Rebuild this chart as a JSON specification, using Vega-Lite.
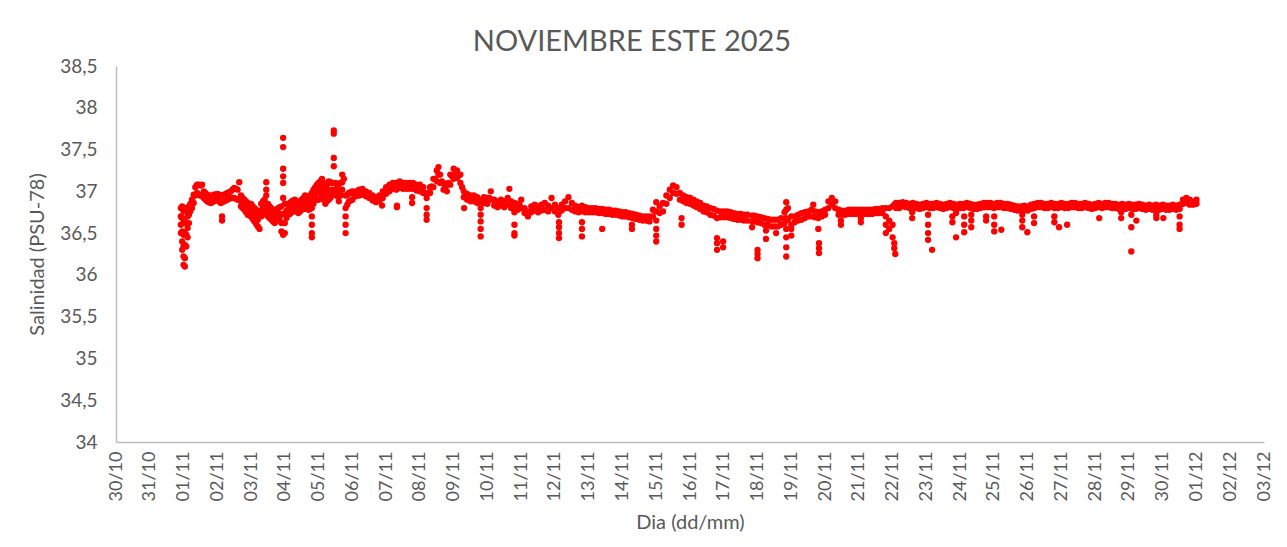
{
"$schema": "https://vega.github.io/schema/vega-lite/v6.json",
"width": 1148, "height": 376,
"autosize": "none",
"padding": {"left": 116, "top": 66, "right": 23, "bottom": 105},
"background": "white",
"config": {"view": {"stroke": null}, "font": "Lato"},
"title": {"text": "NOVIEMBRE ESTE 2025", "fontSize": 29, "font": "Lato", "fontWeight": "normal", "color": "#595959", "anchor": "middle", "dx": -58, "offset": 0},
"data": {"values": [
{"d":0.92,"s":36.8},{"d":0.92,"s":36.7},{"d":0.92,"s":36.6},{"d":0.92,"s":36.5},
{"d":0.96,"s":36.82},{"d":0.96,"s":36.68},{"d":0.96,"s":36.52},{"d":0.96,"s":36.4},{"d":0.96,"s":36.3},
{"d":1.0,"s":36.76},{"d":1.0,"s":36.62},{"d":1.0,"s":36.48},{"d":1.0,"s":36.34},{"d":1.0,"s":36.22},{"d":1.0,"s":36.12},
{"d":1.04,"s":36.8},{"d":1.04,"s":36.64},{"d":1.04,"s":36.5},{"d":1.04,"s":36.36},{"d":1.04,"s":36.2},{"d":1.04,"s":36.1},
{"d":1.08,"s":36.78},{"d":1.08,"s":36.62},{"d":1.08,"s":36.48},{"d":1.08,"s":36.34},
{"d":1.12,"s":36.8},{"d":1.12,"s":36.7},{"d":1.12,"s":36.56},{"d":1.12,"s":36.45},
{"d":1.16,"s":36.82},{"d":1.16,"s":36.72},{"d":1.16,"s":36.62},
{"d":1.2,"s":36.85},{"d":1.2,"s":36.76},{"d":1.25,"s":36.9},{"d":1.25,"s":36.8},
{"d":1.3,"s":36.96},{"d":1.3,"s":36.86},{"d":1.35,"s":37.05},{"d":1.35,"s":36.95},
{"d":1.4,"s":37.08},{"d":1.4,"s":36.98},{"d":1.45,"s":37.08},{"d":1.45,"s":36.96},
{"d":1.5,"s":37.07},{"d":1.5,"s":36.95},{"d":1.55,"s":37.08},{"d":1.55,"s":36.94},
{"d":1.6,"s":37.0},{"d":1.6,"s":36.92},{"d":1.65,"s":36.98},{"d":1.65,"s":36.9},
{"d":1.7,"s":36.96},{"d":1.7,"s":36.88},{"d":1.75,"s":36.95},{"d":1.75,"s":36.87},
{"d":1.8,"s":36.94},{"d":1.8,"s":36.86},{"d":1.85,"s":36.95},{"d":1.85,"s":36.87},
{"d":1.9,"s":36.96},{"d":1.9,"s":36.88},{"d":1.95,"s":36.96},{"d":1.95,"s":36.89},
{"d":2.0,"s":36.97},{"d":2.0,"s":36.9},{"d":2.05,"s":36.96},{"d":2.05,"s":36.88},
{"d":2.1,"s":36.95},{"d":2.1,"s":36.86},{"d":2.15,"s":36.95},{"d":2.15,"s":36.87},
{"d":2.14,"s":36.7},{"d":2.14,"s":36.65},
{"d":2.2,"s":36.96},{"d":2.2,"s":36.88},{"d":2.25,"s":36.97},{"d":2.25,"s":36.89},
{"d":2.3,"s":36.98},{"d":2.3,"s":36.9},{"d":2.35,"s":36.99},{"d":2.35,"s":36.91},
{"d":2.4,"s":37.0},{"d":2.4,"s":36.92},{"d":2.45,"s":37.02},{"d":2.45,"s":36.92},
{"d":2.5,"s":37.04},{"d":2.5,"s":36.92},{"d":2.55,"s":37.03},{"d":2.55,"s":36.91},
{"d":2.6,"s":37.02},{"d":2.6,"s":36.9},{"d":2.65,"s":37.11},
{"d":2.7,"s":36.95},{"d":2.7,"s":36.88},{"d":2.7,"s":36.82},{"d":2.75,"s":36.92},{"d":2.75,"s":36.86},{"d":2.75,"s":36.8},
{"d":2.8,"s":36.9},{"d":2.8,"s":36.84},{"d":2.8,"s":36.78},{"d":2.85,"s":36.88},{"d":2.85,"s":36.81},{"d":2.85,"s":36.75},
{"d":2.9,"s":36.86},{"d":2.9,"s":36.79},{"d":2.9,"s":36.72},{"d":2.95,"s":36.85},{"d":2.95,"s":36.78},{"d":2.95,"s":36.71},
{"d":3.0,"s":36.85},{"d":3.0,"s":36.77},{"d":3.0,"s":36.7},{"d":3.05,"s":36.82},{"d":3.05,"s":36.74},{"d":3.05,"s":36.67},
{"d":3.1,"s":36.8},{"d":3.1,"s":36.72},{"d":3.1,"s":36.64},{"d":3.15,"s":36.78},{"d":3.15,"s":36.7},{"d":3.15,"s":36.61},
{"d":3.2,"s":36.75},{"d":3.2,"s":36.66},{"d":3.2,"s":36.58},{"d":3.25,"s":36.55},
{"d":3.3,"s":36.85},{"d":3.3,"s":36.77},{"d":3.3,"s":36.7},{"d":3.35,"s":36.88},{"d":3.35,"s":36.8},{"d":3.35,"s":36.72},
{"d":3.4,"s":36.9},{"d":3.4,"s":36.82},{"d":3.4,"s":36.75},
{"d":3.45,"s":37.11},{"d":3.45,"s":37.02},{"d":3.45,"s":36.95},
{"d":3.5,"s":36.85},{"d":3.5,"s":36.77},{"d":3.5,"s":36.7},{"d":3.55,"s":36.82},{"d":3.55,"s":36.75},{"d":3.55,"s":36.68},
{"d":3.6,"s":36.8},{"d":3.6,"s":36.73},{"d":3.6,"s":36.66},{"d":3.65,"s":36.78},{"d":3.65,"s":36.71},{"d":3.65,"s":36.64},
{"d":3.7,"s":36.76},{"d":3.7,"s":36.69},{"d":3.7,"s":36.62},{"d":3.75,"s":36.78},{"d":3.75,"s":36.71},{"d":3.75,"s":36.65},
{"d":3.8,"s":36.8},{"d":3.8,"s":36.74},{"d":3.8,"s":36.68},{"d":3.85,"s":36.81},{"d":3.85,"s":36.73},{"d":3.85,"s":36.65},
{"d":3.9,"s":36.82},{"d":3.9,"s":36.72},{"d":3.9,"s":36.62},{"d":3.9,"s":36.52},
{"d":3.95,"s":37.64},{"d":3.95,"s":37.53},{"d":3.95,"s":37.27},{"d":3.95,"s":37.18},{"d":3.95,"s":37.1},{"d":3.95,"s":36.92},{"d":3.95,"s":36.48},
{"d":4.0,"s":36.85},{"d":4.0,"s":36.74},{"d":4.0,"s":36.62},{"d":4.0,"s":36.5},
{"d":4.05,"s":36.85},{"d":4.05,"s":36.77},{"d":4.05,"s":36.68},
{"d":4.1,"s":36.85},{"d":4.1,"s":36.78},{"d":4.1,"s":36.72},{"d":4.15,"s":36.86},{"d":4.15,"s":36.8},{"d":4.15,"s":36.73},
{"d":4.2,"s":36.88},{"d":4.2,"s":36.81},{"d":4.2,"s":36.75},{"d":4.25,"s":36.89},{"d":4.25,"s":36.82},{"d":4.25,"s":36.76},
{"d":4.3,"s":36.9},{"d":4.3,"s":36.84},{"d":4.3,"s":36.78},{"d":4.35,"s":36.88},{"d":4.35,"s":36.82},{"d":4.35,"s":36.76},
{"d":4.4,"s":36.85},{"d":4.4,"s":36.8},{"d":4.4,"s":36.74},{"d":4.45,"s":36.88},{"d":4.45,"s":36.82},{"d":4.45,"s":36.76},
{"d":4.5,"s":36.9},{"d":4.5,"s":36.84},{"d":4.5,"s":36.78},{"d":4.55,"s":36.92},{"d":4.55,"s":36.85},{"d":4.55,"s":36.79},
{"d":4.6,"s":36.95},{"d":4.6,"s":36.87},{"d":4.6,"s":36.8},{"d":4.65,"s":36.93},{"d":4.65,"s":36.86},{"d":4.65,"s":36.79},
{"d":4.7,"s":36.92},{"d":4.7,"s":36.85},{"d":4.7,"s":36.78},{"d":4.75,"s":36.95},{"d":4.75,"s":36.87},{"d":4.75,"s":36.79},
{"d":4.8,"s":36.98},{"d":4.8,"s":36.89},{"d":4.8,"s":36.8},{"d":4.8,"s":36.7},{"d":4.8,"s":36.6},{"d":4.8,"s":36.5},{"d":4.8,"s":36.45},
{"d":4.85,"s":37.02},{"d":4.85,"s":36.93},{"d":4.85,"s":36.85},
{"d":4.9,"s":37.05},{"d":4.9,"s":36.97},{"d":4.9,"s":36.9},{"d":4.95,"s":37.08},{"d":4.95,"s":36.99},{"d":4.95,"s":36.9},
{"d":5.0,"s":37.1},{"d":5.0,"s":37.0},{"d":5.0,"s":36.9},{"d":5.05,"s":37.12},{"d":5.05,"s":37.02},{"d":5.05,"s":36.92},
{"d":5.1,"s":37.15},{"d":5.1,"s":37.05},{"d":5.1,"s":36.95},{"d":5.15,"s":37.1},{"d":5.15,"s":37.0},{"d":5.15,"s":36.9},
{"d":5.2,"s":37.05},{"d":5.2,"s":36.95},{"d":5.2,"s":36.85},{"d":5.25,"s":37.08},{"d":5.25,"s":36.98},{"d":5.25,"s":36.88},
{"d":5.3,"s":37.12},{"d":5.3,"s":37.01},{"d":5.3,"s":36.9},{"d":5.35,"s":37.11},{"d":5.35,"s":37.01},{"d":5.35,"s":36.92},
{"d":5.4,"s":37.1},{"d":5.4,"s":37.02},{"d":5.4,"s":36.95},
{"d":5.45,"s":37.73},{"d":5.45,"s":37.69},{"d":5.45,"s":37.4},{"d":5.45,"s":37.3},
{"d":5.5,"s":37.1},{"d":5.5,"s":37.0},{"d":5.55,"s":37.05},{"d":5.55,"s":36.99},{"d":5.55,"s":36.94},
{"d":5.6,"s":37.0},{"d":5.6,"s":36.94},{"d":5.6,"s":36.88},{"d":5.65,"s":37.1},{"d":5.65,"s":37.02},{"d":5.65,"s":36.95},
{"d":5.7,"s":37.2},{"d":5.7,"s":37.11},{"d":5.7,"s":37.02},{"d":5.75,"s":37.15},
{"d":5.8,"s":36.95},{"d":5.8,"s":36.8},{"d":5.8,"s":36.7},{"d":5.8,"s":36.6},{"d":5.8,"s":36.5},
{"d":5.85,"s":36.96},{"d":5.85,"s":36.84},
{"d":5.9,"s":36.98},{"d":5.9,"s":36.88},{"d":5.95,"s":36.99},{"d":5.95,"s":36.89},
{"d":6.0,"s":37.0},{"d":6.0,"s":36.9},{"d":6.05,"s":36.96},
{"d":6.1,"s":37.0},{"d":6.1,"s":36.94},{"d":6.15,"s":36.98},
{"d":6.2,"s":37.02},{"d":6.2,"s":36.95},{"d":6.25,"s":36.99},
{"d":6.3,"s":37.03},{"d":6.3,"s":36.96},{"d":6.35,"s":36.99},
{"d":6.4,"s":37.0},{"d":6.4,"s":36.94},{"d":6.45,"s":36.96},
{"d":6.5,"s":36.98},{"d":6.5,"s":36.92},{"d":6.55,"s":36.93},
{"d":6.6,"s":36.95},{"d":6.6,"s":36.89},{"d":6.65,"s":36.91},
{"d":6.7,"s":36.93},{"d":6.7,"s":36.87},{"d":6.75,"s":36.91},
{"d":6.8,"s":36.95},{"d":6.8,"s":36.88},{"d":6.85,"s":36.92},{"d":6.88,"s":36.83},
{"d":6.9,"s":37.0},{"d":6.9,"s":36.92},{"d":6.95,"s":36.99},
{"d":7.0,"s":37.05},{"d":7.0,"s":36.97},{"d":7.05,"s":37.03},
{"d":7.1,"s":37.08},{"d":7.1,"s":37.0},{"d":7.15,"s":37.05},
{"d":7.2,"s":37.1},{"d":7.2,"s":37.03},{"d":7.25,"s":37.06},
{"d":7.3,"s":37.1},{"d":7.3,"s":37.02},{"d":7.32,"s":36.83},{"d":7.32,"s":36.81},{"d":7.35,"s":37.07},
{"d":7.4,"s":37.12},{"d":7.4,"s":37.04},{"d":7.45,"s":37.07},
{"d":7.5,"s":37.1},{"d":7.5,"s":37.03},{"d":7.55,"s":37.06},
{"d":7.6,"s":37.1},{"d":7.6,"s":37.03},{"d":7.65,"s":37.06},
{"d":7.7,"s":37.1},{"d":7.7,"s":37.03},{"d":7.75,"s":37.06},
{"d":7.77,"s":36.93},{"d":7.77,"s":36.86},
{"d":7.8,"s":37.1},{"d":7.8,"s":37.03},{"d":7.85,"s":37.05},
{"d":7.9,"s":37.08},{"d":7.9,"s":37.01},{"d":7.95,"s":37.04},
{"d":8.0,"s":37.08},{"d":8.0,"s":37.0},{"d":8.05,"s":37.03},
{"d":8.1,"s":37.05},{"d":8.1,"s":36.98},{"d":8.15,"s":36.98},
{"d":8.2,"s":36.98},{"d":8.2,"s":36.92},{"d":8.2,"s":36.8},{"d":8.2,"s":36.72},{"d":8.2,"s":36.66},
{"d":8.25,"s":36.98},
{"d":8.3,"s":37.05},{"d":8.3,"s":36.98},{"d":8.35,"s":37.06},
{"d":8.4,"s":37.15},{"d":8.4,"s":37.05},{"d":8.45,"s":37.15},
{"d":8.5,"s":37.25},{"d":8.5,"s":37.12},{"d":8.55,"s":37.29},{"d":8.55,"s":37.2},
{"d":8.6,"s":37.2},{"d":8.6,"s":37.1},{"d":8.65,"s":37.12},
{"d":8.7,"s":37.1},{"d":8.7,"s":37.02},{"d":8.75,"s":37.05},
{"d":8.8,"s":37.08},{"d":8.8,"s":37.0},{"d":8.85,"s":37.1},
{"d":8.9,"s":37.2},{"d":8.9,"s":37.08},{"d":8.95,"s":37.18},
{"d":9.0,"s":37.27},{"d":9.0,"s":37.15},{"d":9.05,"s":37.21},
{"d":9.1,"s":37.25},{"d":9.1,"s":37.16},{"d":9.15,"s":37.19},
{"d":9.2,"s":37.2},{"d":9.2,"s":37.1},{"d":9.25,"s":37.05},
{"d":9.3,"s":37.0},{"d":9.3,"s":36.93},{"d":9.31,"s":36.8},{"d":9.35,"s":36.96},
{"d":9.4,"s":36.97},{"d":9.4,"s":36.9},{"d":9.45,"s":36.92},
{"d":9.5,"s":36.95},{"d":9.5,"s":36.88},{"d":9.55,"s":36.91},
{"d":9.6,"s":36.95},{"d":9.6,"s":36.88},{"d":9.65,"s":36.9},
{"d":9.7,"s":36.93},{"d":9.7,"s":36.86},{"d":9.75,"s":36.88},
{"d":9.8,"s":36.9},{"d":9.8,"s":36.8},{"d":9.8,"s":36.72},{"d":9.8,"s":36.64},{"d":9.8,"s":36.55},{"d":9.8,"s":36.46},
{"d":9.85,"s":36.87},
{"d":9.9,"s":36.93},{"d":9.9,"s":36.86},{"d":9.95,"s":36.89},
{"d":10.0,"s":36.92},{"d":10.0,"s":36.85},{"d":10.05,"s":36.92},
{"d":10.1,"s":37.0},{"d":10.1,"s":36.9},{"d":10.15,"s":36.9},
{"d":10.2,"s":36.9},{"d":10.2,"s":36.83},{"d":10.25,"s":36.85},
{"d":10.3,"s":36.88},{"d":10.3,"s":36.81},{"d":10.35,"s":36.86},
{"d":10.4,"s":36.9},{"d":10.4,"s":36.83},{"d":10.45,"s":36.86},
{"d":10.5,"s":36.88},{"d":10.5,"s":36.81},{"d":10.55,"s":36.86},
{"d":10.6,"s":36.92},{"d":10.6,"s":36.84},{"d":10.65,"s":37.03},
{"d":10.7,"s":36.88},{"d":10.7,"s":36.8},{"d":10.75,"s":36.83},
{"d":10.8,"s":36.86},{"d":10.8,"s":36.75},{"d":10.8,"s":36.6},{"d":10.8,"s":36.5},{"d":10.8,"s":36.47},
{"d":10.85,"s":36.82},
{"d":10.9,"s":36.85},{"d":10.9,"s":36.78},{"d":10.95,"s":36.84},
{"d":11.0,"s":36.9},{"d":11.0,"s":36.8},
{"d":11.1,"s":36.8},{"d":11.1,"s":36.74},{"d":11.2,"s":36.76},{"d":11.2,"s":36.7},
{"d":11.3,"s":36.82},{"d":11.3,"s":36.75},{"d":11.4,"s":36.84},{"d":11.4,"s":36.77},
{"d":11.5,"s":36.82},{"d":11.5,"s":36.75},{"d":11.6,"s":36.84},{"d":11.6,"s":36.77},
{"d":11.7,"s":36.86},{"d":11.7,"s":36.78},{"d":11.8,"s":36.83},{"d":11.8,"s":36.76},
{"d":11.9,"s":36.92},{"d":11.9,"s":36.8},{"d":12.0,"s":36.84},{"d":12.0,"s":36.76},
{"d":12.1,"s":36.8},{"d":12.1,"s":36.72},
{"d":12.12,"s":36.63},{"d":12.12,"s":36.57},{"d":12.12,"s":36.5},{"d":12.12,"s":36.44},
{"d":12.2,"s":36.84},{"d":12.2,"s":36.77},{"d":12.3,"s":36.88},{"d":12.3,"s":36.8},
{"d":12.4,"s":36.93},{"d":12.4,"s":36.8},{"d":12.5,"s":36.86},{"d":12.5,"s":36.78},
{"d":12.6,"s":36.83},{"d":12.6,"s":36.76},{"d":12.7,"s":36.81},{"d":12.7,"s":36.75},
{"d":12.8,"s":36.83},{"d":12.8,"s":36.76},{"d":12.8,"s":36.63},{"d":12.8,"s":36.55},{"d":12.8,"s":36.46},
{"d":12.9,"s":36.81},{"d":12.9,"s":36.75},{"d":13.0,"s":36.8},{"d":13.0,"s":36.75},
{"d":13.1,"s":36.8},{"d":13.1,"s":36.75},{"d":13.2,"s":36.8},{"d":13.2,"s":36.75},
{"d":13.3,"s":36.79},{"d":13.3,"s":36.74},{"d":13.4,"s":36.79},{"d":13.4,"s":36.74},{"d":13.4,"s":36.55},
{"d":13.5,"s":36.78},{"d":13.5,"s":36.73},{"d":13.6,"s":36.78},{"d":13.6,"s":36.73},
{"d":13.7,"s":36.77},{"d":13.7,"s":36.72},{"d":13.8,"s":36.77},{"d":13.8,"s":36.72},
{"d":13.9,"s":36.76},{"d":13.9,"s":36.71},{"d":14.0,"s":36.75},{"d":14.0,"s":36.7},
{"d":14.1,"s":36.75},{"d":14.1,"s":36.7},{"d":14.2,"s":36.74},{"d":14.2,"s":36.69},
{"d":14.28,"s":36.6},{"d":14.28,"s":36.55},
{"d":14.3,"s":36.73},{"d":14.3,"s":36.68},{"d":14.4,"s":36.72},{"d":14.4,"s":36.67},
{"d":14.5,"s":36.71},{"d":14.5,"s":36.66},{"d":14.6,"s":36.7},{"d":14.6,"s":36.65},
{"d":14.7,"s":36.7},{"d":14.7,"s":36.65},{"d":14.8,"s":36.7},{"d":14.8,"s":36.64},
{"d":14.9,"s":36.78},{"d":14.9,"s":36.7},
{"d":15.0,"s":36.87},{"d":15.0,"s":36.76},{"d":15.0,"s":36.65},{"d":15.0,"s":36.55},{"d":15.0,"s":36.47},{"d":15.0,"s":36.4},
{"d":15.1,"s":36.82},{"d":15.1,"s":36.74},{"d":15.2,"s":36.86},{"d":15.2,"s":36.76},
{"d":15.3,"s":36.95},{"d":15.3,"s":36.85},{"d":15.4,"s":37.02},{"d":15.4,"s":36.92},
{"d":15.5,"s":37.07},{"d":15.5,"s":36.98},{"d":15.6,"s":37.05},{"d":15.6,"s":36.97},
{"d":15.7,"s":36.98},{"d":15.7,"s":36.9},{"d":15.75,"s":36.68},{"d":15.75,"s":36.6},
{"d":15.8,"s":36.95},{"d":15.8,"s":36.88},{"d":15.9,"s":36.93},{"d":15.9,"s":36.86},
{"d":16.0,"s":36.92},{"d":16.0,"s":36.85},{"d":16.1,"s":36.9},{"d":16.1,"s":36.83},
{"d":16.2,"s":36.88},{"d":16.2,"s":36.81},{"d":16.3,"s":36.86},{"d":16.3,"s":36.79},
{"d":16.4,"s":36.83},{"d":16.4,"s":36.76},{"d":16.5,"s":36.82},{"d":16.5,"s":36.75},
{"d":16.6,"s":36.8},{"d":16.6,"s":36.72},{"d":16.7,"s":36.79},{"d":16.7,"s":36.71},
{"d":16.8,"s":36.77},{"d":16.8,"s":36.68},{"d":16.8,"s":36.44},{"d":16.8,"s":36.38},{"d":16.8,"s":36.3},
{"d":16.9,"s":36.76},{"d":16.9,"s":36.69},{"d":16.98,"s":36.4},{"d":16.98,"s":36.33},
{"d":17.0,"s":36.76},{"d":17.0,"s":36.69},{"d":17.1,"s":36.76},{"d":17.1,"s":36.69},
{"d":17.2,"s":36.75},{"d":17.2,"s":36.68},{"d":17.3,"s":36.74},{"d":17.3,"s":36.67},
{"d":17.4,"s":36.73},{"d":17.4,"s":36.66},{"d":17.5,"s":36.73},{"d":17.5,"s":36.66},
{"d":17.6,"s":36.72},{"d":17.6,"s":36.65},{"d":17.7,"s":36.72},{"d":17.7,"s":36.65},
{"d":17.84,"s":36.71},{"d":17.84,"s":36.64},{"d":17.84,"s":36.57},
{"d":17.9,"s":36.71},{"d":17.9,"s":36.64},
{"d":18.0,"s":36.7},{"d":18.0,"s":36.63},{"d":18.0,"s":36.3},{"d":18.0,"s":36.25},{"d":18.0,"s":36.2},
{"d":18.1,"s":36.69},{"d":18.1,"s":36.62},{"d":18.2,"s":36.68},{"d":18.2,"s":36.6},
{"d":18.25,"s":36.53},{"d":18.25,"s":36.43},
{"d":18.3,"s":36.67},{"d":18.3,"s":36.6},{"d":18.4,"s":36.66},{"d":18.4,"s":36.58},
{"d":18.5,"s":36.66},{"d":18.5,"s":36.58},{"d":18.55,"s":36.5},
{"d":18.6,"s":36.66},{"d":18.6,"s":36.58},{"d":18.7,"s":36.68},{"d":18.7,"s":36.6},
{"d":18.8,"s":36.75},{"d":18.8,"s":36.62},
{"d":18.85,"s":36.87},{"d":18.85,"s":36.78},{"d":18.85,"s":36.68},{"d":18.85,"s":36.55},{"d":18.85,"s":36.45},{"d":18.85,"s":36.33},{"d":18.85,"s":36.22},
{"d":18.9,"s":36.8},{"d":18.9,"s":36.66},
{"d":19.0,"s":36.7},{"d":19.0,"s":36.6},{"d":19.0,"s":36.55},{"d":19.0,"s":36.47},
{"d":19.1,"s":36.7},{"d":19.1,"s":36.63},{"d":19.2,"s":36.72},{"d":19.2,"s":36.65},
{"d":19.3,"s":36.74},{"d":19.3,"s":36.66},{"d":19.4,"s":36.75},{"d":19.4,"s":36.68},
{"d":19.5,"s":36.76},{"d":19.5,"s":36.7},{"d":19.6,"s":36.78},{"d":19.6,"s":36.7},{"d":19.65,"s":36.84},
{"d":19.7,"s":36.76},{"d":19.7,"s":36.69},
{"d":19.8,"s":36.75},{"d":19.8,"s":36.68},{"d":19.8,"s":36.55},
{"d":19.82,"s":36.38},{"d":19.82,"s":36.32},{"d":19.82,"s":36.26},
{"d":19.9,"s":36.76},{"d":19.9,"s":36.7},{"d":20.0,"s":36.78},{"d":20.0,"s":36.72},
{"d":20.1,"s":36.88},{"d":20.1,"s":36.8},{"d":20.2,"s":36.92},{"d":20.2,"s":36.84},
{"d":20.3,"s":36.88},{"d":20.3,"s":36.8},{"d":20.4,"s":36.78},{"d":20.4,"s":36.72},
{"d":20.47,"s":36.65},{"d":20.47,"s":36.6},
{"d":20.5,"s":36.77},{"d":20.5,"s":36.72},{"d":20.6,"s":36.77},{"d":20.6,"s":36.72},
{"d":20.7,"s":36.78},{"d":20.7,"s":36.73},{"d":20.8,"s":36.78},{"d":20.8,"s":36.73},
{"d":20.9,"s":36.78},{"d":20.9,"s":36.73},{"d":21.0,"s":36.78},{"d":21.0,"s":36.73},
{"d":21.06,"s":36.68},{"d":21.06,"s":36.63},
{"d":21.1,"s":36.78},{"d":21.1,"s":36.73},{"d":21.2,"s":36.78},{"d":21.2,"s":36.73},
{"d":21.3,"s":36.78},{"d":21.3,"s":36.73},{"d":21.4,"s":36.78},{"d":21.4,"s":36.73},
{"d":21.5,"s":36.79},{"d":21.5,"s":36.74},{"d":21.6,"s":36.79},{"d":21.6,"s":36.74},
{"d":21.7,"s":36.8},{"d":21.7,"s":36.74},
{"d":21.8,"s":36.8},{"d":21.8,"s":36.7},{"d":21.8,"s":36.6},{"d":21.8,"s":36.5},
{"d":21.9,"s":36.8},{"d":21.9,"s":36.65},{"d":21.9,"s":36.55},
{"d":22.0,"s":36.82},{"d":22.0,"s":36.6},{"d":22.0,"s":36.45},
{"d":22.05,"s":36.84},{"d":22.05,"s":36.38},{"d":22.05,"s":36.32},{"d":22.08,"s":36.25},
{"d":22.1,"s":36.86},{"d":22.1,"s":36.8},{"d":22.2,"s":36.86},{"d":22.2,"s":36.8},
{"d":22.3,"s":36.87},{"d":22.3,"s":36.82},{"d":22.4,"s":36.86},{"d":22.4,"s":36.81},
{"d":22.5,"s":36.85},{"d":22.5,"s":36.8},{"d":22.58,"s":36.75},{"d":22.58,"s":36.68},
{"d":22.6,"s":36.86},{"d":22.6,"s":36.81},{"d":22.7,"s":36.85},{"d":22.7,"s":36.8},
{"d":22.8,"s":36.84},{"d":22.8,"s":36.79},{"d":22.9,"s":36.85},{"d":22.9,"s":36.8},
{"d":23.0,"s":36.86},{"d":23.0,"s":36.81},
{"d":23.05,"s":36.72},{"d":23.05,"s":36.6},{"d":23.05,"s":36.5},{"d":23.05,"s":36.42},{"d":23.17,"s":36.3},
{"d":23.1,"s":36.85},{"d":23.1,"s":36.8},{"d":23.2,"s":36.85},{"d":23.2,"s":36.8},
{"d":23.3,"s":36.86},{"d":23.3,"s":36.81},{"d":23.4,"s":36.85},{"d":23.4,"s":36.8},
{"d":23.5,"s":36.84},{"d":23.5,"s":36.79},{"d":23.6,"s":36.85},{"d":23.6,"s":36.8},
{"d":23.7,"s":36.86},{"d":23.7,"s":36.81},{"d":23.77,"s":36.7},{"d":23.77,"s":36.63},
{"d":23.8,"s":36.85},{"d":23.8,"s":36.8},{"d":23.88,"s":36.74},{"d":23.88,"s":36.45},
{"d":23.9,"s":36.84},{"d":23.9,"s":36.79},{"d":24.0,"s":36.85},{"d":24.0,"s":36.8},
{"d":24.1,"s":36.85},{"d":24.1,"s":36.8},{"d":24.12,"s":36.7},{"d":24.12,"s":36.6},{"d":24.12,"s":36.51},
{"d":24.2,"s":36.86},{"d":24.2,"s":36.81},{"d":24.3,"s":36.85},{"d":24.3,"s":36.8},
{"d":24.33,"s":36.72},{"d":24.33,"s":36.65},{"d":24.33,"s":36.57},
{"d":24.4,"s":36.84},{"d":24.4,"s":36.79},{"d":24.5,"s":36.84},{"d":24.5,"s":36.79},
{"d":24.6,"s":36.85},{"d":24.6,"s":36.8},{"d":24.7,"s":36.86},{"d":24.7,"s":36.81},
{"d":24.77,"s":36.7},{"d":24.77,"s":36.65},
{"d":24.8,"s":36.86},{"d":24.8,"s":36.81},{"d":24.9,"s":36.86},{"d":24.9,"s":36.81},
{"d":25.0,"s":36.85},{"d":25.0,"s":36.8},{"d":25.01,"s":36.7},{"d":25.01,"s":36.6},{"d":25.01,"s":36.52},
{"d":25.1,"s":36.86},{"d":25.1,"s":36.81},{"d":25.2,"s":36.86},{"d":25.2,"s":36.81},{"d":25.22,"s":36.54},
{"d":25.3,"s":36.85},{"d":25.3,"s":36.8},{"d":25.4,"s":36.85},{"d":25.4,"s":36.8},
{"d":25.5,"s":36.84},{"d":25.5,"s":36.79},{"d":25.6,"s":36.83},{"d":25.6,"s":36.78},
{"d":25.7,"s":36.82},{"d":25.7,"s":36.77},{"d":25.8,"s":36.82},{"d":25.8,"s":36.77},
{"d":25.84,"s":36.72},{"d":25.84,"s":36.65},{"d":25.84,"s":36.57},
{"d":25.9,"s":36.83},{"d":25.9,"s":36.78},{"d":25.99,"s":36.51},
{"d":26.0,"s":36.82},{"d":26.0,"s":36.77},{"d":26.1,"s":36.84},{"d":26.1,"s":36.79},
{"d":26.19,"s":36.7},{"d":26.19,"s":36.62},
{"d":26.2,"s":36.85},{"d":26.2,"s":36.8},{"d":26.3,"s":36.86},{"d":26.3,"s":36.81},
{"d":26.4,"s":36.86},{"d":26.4,"s":36.81},{"d":26.5,"s":36.85},{"d":26.5,"s":36.8},
{"d":26.6,"s":36.85},{"d":26.6,"s":36.8},{"d":26.7,"s":36.86},{"d":26.7,"s":36.81},
{"d":26.79,"s":36.7},{"d":26.79,"s":36.63},
{"d":26.8,"s":36.85},{"d":26.8,"s":36.8},{"d":26.9,"s":36.85},{"d":26.9,"s":36.8},{"d":26.93,"s":36.57},
{"d":27.0,"s":36.86},{"d":27.0,"s":36.81},{"d":27.1,"s":36.85},{"d":27.1,"s":36.8},
{"d":27.17,"s":36.6},
{"d":27.2,"s":36.85},{"d":27.2,"s":36.8},{"d":27.3,"s":36.86},{"d":27.3,"s":36.81},
{"d":27.4,"s":36.86},{"d":27.4,"s":36.81},{"d":27.5,"s":36.85},{"d":27.5,"s":36.8},
{"d":27.6,"s":36.85},{"d":27.6,"s":36.8},{"d":27.7,"s":36.86},{"d":27.7,"s":36.81},
{"d":27.8,"s":36.85},{"d":27.8,"s":36.8},{"d":27.9,"s":36.84},{"d":27.9,"s":36.79},
{"d":28.0,"s":36.85},{"d":28.0,"s":36.8},{"d":28.1,"s":36.86},{"d":28.1,"s":36.81},{"d":28.12,"s":36.68},
{"d":28.2,"s":36.85},{"d":28.2,"s":36.8},{"d":28.3,"s":36.86},{"d":28.3,"s":36.81},
{"d":28.4,"s":36.86},{"d":28.4,"s":36.81},{"d":28.5,"s":36.85},{"d":28.5,"s":36.8},
{"d":28.6,"s":36.85},{"d":28.6,"s":36.8},{"d":28.7,"s":36.84},{"d":28.7,"s":36.79},
{"d":28.77,"s":36.75},{"d":28.77,"s":36.68},
{"d":28.8,"s":36.85},{"d":28.8,"s":36.8},{"d":28.9,"s":36.84},{"d":28.9,"s":36.79},
{"d":29.0,"s":36.85},{"d":29.0,"s":36.8},{"d":29.07,"s":36.72},{"d":29.07,"s":36.57},{"d":29.07,"s":36.28},
{"d":29.1,"s":36.84},{"d":29.1,"s":36.79},{"d":29.2,"s":36.84},{"d":29.2,"s":36.79},{"d":29.22,"s":36.65},
{"d":29.3,"s":36.85},{"d":29.3,"s":36.8},{"d":29.4,"s":36.84},{"d":29.4,"s":36.79},
{"d":29.5,"s":36.83},{"d":29.5,"s":36.78},{"d":29.6,"s":36.84},{"d":29.6,"s":36.79},
{"d":29.7,"s":36.83},{"d":29.7,"s":36.78},{"d":29.8,"s":36.84},{"d":29.8,"s":36.79},
{"d":29.81,"s":36.72},{"d":29.81,"s":36.68},
{"d":29.9,"s":36.83},{"d":29.9,"s":36.78},{"d":30.0,"s":36.84},{"d":30.0,"s":36.79},{"d":30.02,"s":36.68},
{"d":30.1,"s":36.83},{"d":30.1,"s":36.78},{"d":30.2,"s":36.83},{"d":30.2,"s":36.78},
{"d":30.3,"s":36.84},{"d":30.3,"s":36.79},{"d":30.4,"s":36.83},{"d":30.4,"s":36.78},
{"d":30.5,"s":36.84},{"d":30.5,"s":36.79},{"d":30.5,"s":36.7},{"d":30.5,"s":36.6},{"d":30.5,"s":36.55},
{"d":30.6,"s":36.9},{"d":30.6,"s":36.85},{"d":30.7,"s":36.92},{"d":30.7,"s":36.86},
{"d":30.8,"s":36.9},{"d":30.8,"s":36.84},{"d":30.9,"s":36.88},{"d":30.9,"s":36.84},
{"d":31.0,"s":36.9},{"d":31.0,"s":36.85}
]},
"mark": {"type": "point", "filled": true, "size": 40, "color": "#FF0000", "opacity": 1},
"encoding": {
"x": {"field": "d", "type": "quantitative",
"scale": {"domain": [-1, 33], "nice": false, "zero": false},
"axis": {"title": "Dia (dd/mm)", "values": [-1,0,1,2,3,4,5,6,7,8,9,10,11,12,13,14,15,16,17,18,19,20,21,22,23,24,25,26,27,28,29,30,31,32,33],
"labelExpr": "datum.value == -1 ? '30/10' : datum.value == 0 ? '31/10' : datum.value <= 30 ? (datum.value < 10 ? '0' : '') + datum.value + '/11' : '0' + (datum.value - 30) + '/12'",
"labelAngle": -90, "labelPadding": 9, "labelFontSize": 18, "labelColor": "#595959", "labelFont": "Lato",
"ticks": false, "tickSize": 0, "grid": false, "domainColor": "#BFBFBF", "domainWidth": 1.5, "labelOverlap": false, "labelFlush": false,
"titleFontSize": 20, "titleFontWeight": "normal", "titleColor": "#595959", "titleFont": "Lato", "titleBaseline": "middle", "titleY": 80}},
"y": {"field": "s", "type": "quantitative",
"scale": {"domain": [34, 38.5], "nice": false, "zero": false},
"axis": {"title": "Salinidad (PSU-78)", "values": [34,34.5,35,35.5,36,36.5,37,37.5,38,38.5],
"labelExpr": "replace(toString(datum.value), '.', ',')",
"labelPadding": 19, "labelFontSize": 19, "labelColor": "#595959", "labelFont": "Lato",
"ticks": false, "tickSize": 0, "grid": false, "domainColor": "#BFBFBF", "domainWidth": 1.5, "labelOverlap": false, "labelFlush": false,
"titleFontSize": 20, "titleFontWeight": "normal", "titleColor": "#595959", "titleFont": "Lato", "titleBaseline": "middle", "titleAngle": -90, "titleX": -79, "titleY": 188}}
}
}
